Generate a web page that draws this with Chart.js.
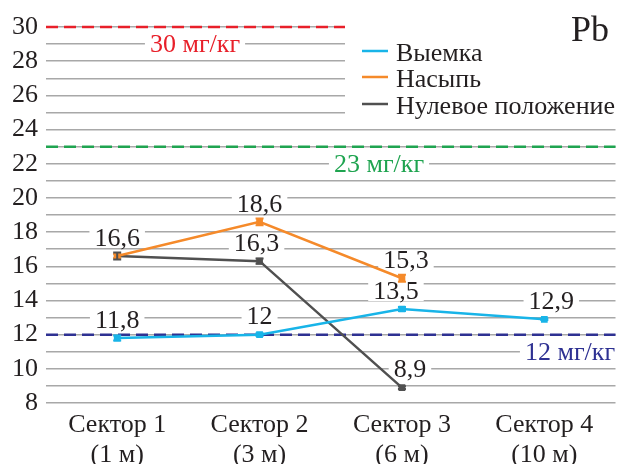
<!DOCTYPE html>
<html>
<head>
<meta charset="utf-8">
<script src="https://cdn.jsdelivr.net/npm/chart.js@4"></script>
<style>
  html, body { margin: 0; padding: 0; background: #fff; }
  canvas { display: block; }
</style>
</head>
<body>
<canvas id="chart" width="621" height="464"></canvas>
<script>
const categories = [['Сектор 1', '(1 м)'], ['Сектор 2', '(3 м)'], ['Сектор 3', '(6 м)'], ['Сектор 4', '(10 м)']];

const vyemka = [11.8, 12, 13.5, 12.9];
const nasyp = [16.6, 18.6, 15.3, null];
const nulevoe = [16.6, 16.3, 8.9, null];

const vyemkaErr = [0.15, 0.08, 0.12, 0.05];
const nasypErr = [0.12, 0.2, 0.2, null];
const nulevoeErr = [0.2, 0.15, 0.08, null];

// which points get a value label (16,6 is shared, shown once)
const vyemkaLabels = ['11,8', '12', '13,5', '12,9'];
const nasypLabels = ['16,6', '18,6', '15,3', null];
const nulevoeLabels = [null, '16,3', '8,9', null];

const limits = [30, 23, 12];
const limitLabels = ['30 мг/кг', '23 мг/кг', '12 мг/кг'];
const limitColors = ['#e8202a', '#1fa450', '#2e3192'];

const FONT = '"Liberation Serif", "DejaVu Serif", serif';
const TEXT = '#231f20';
const SIZE = 26;

// small horizontal nudges of value labels, per series
const labelShift = [[0, 0, -6, 7], [0, 0, 4, 0], [0, -3, 8, 0]];
// where the limit captions sit: x pixel and value of the row
const limitLabelPos = [[195, 29], [379, 22], [570, 11]];

function textBox(ctx, text, x, y, color) {
  ctx.font = SIZE + 'px ' + FONT;
  const w = ctx.measureText(text).width;
  ctx.fillStyle = '#fff';
  ctx.fillRect(x - w / 2 - 5, y - 10, w + 10, 20);
  ctx.fillStyle = color;
  ctx.textAlign = 'center';
  ctx.textBaseline = 'middle';
  ctx.fillText(text, x, y + 1);
}

const overlay = {
  id: 'overlay',
  beforeDatasetsDraw(chart) {
    const ctx = chart.ctx;
    const area = chart.chartArea;
    const x = chart.scales.x;
    const y = chart.scales.y;
    ctx.save();
    limits.forEach((v, i) => {
      const py = y.getPixelForValue(v);
      ctx.strokeStyle = limitColors[i];
      ctx.lineWidth = 2.5;
      ctx.setLineDash([12, 6]);
      ctx.beginPath();
      ctx.moveTo(area.left, py);
      ctx.lineTo(area.right, py);
      ctx.stroke();
    });
    ctx.setLineDash([]);
    limitLabels.forEach((t, i) => {
      textBox(ctx, t, limitLabelPos[i][0], y.getPixelForValue(limitLabelPos[i][1]), limitColors[i]);
    });
    const labels = [vyemkaLabels, nasypLabels, nulevoeLabels];
    chart.data.datasets.forEach((ds, di) => {
      ds.data.forEach((v, i) => {
        const t = labels[di][i];
        if (v == null || t == null) return;
        textBox(ctx, t, x.getPixelForValue(i) + labelShift[di][i], y.getPixelForValue(v) - 18, TEXT);
      });
    });
    ctx.restore();
  },
  afterDatasetsDraw(chart) {
    const ctx = chart.ctx;
    const x = chart.scales.x;
    const y = chart.scales.y;
    const errs = [vyemkaErr, nasypErr, nulevoeErr];
    ctx.save();
    chart.data.datasets.forEach((ds, di) => {
      ctx.strokeStyle = ds.borderColor;
      ctx.lineWidth = 2;
      ds.data.forEach((v, i) => {
        const e = errs[di][i];
        if (v == null || e == null) return;
        const px = x.getPixelForValue(i);
        const top = y.getPixelForValue(v + e);
        const bot = y.getPixelForValue(v - e);
        ctx.beginPath();
        ctx.moveTo(px, top); ctx.lineTo(px, bot);
        ctx.moveTo(px - 4, top); ctx.lineTo(px + 4, top);
        ctx.moveTo(px - 4, bot); ctx.lineTo(px + 4, bot);
        ctx.stroke();
      });
    });
    ctx.restore();
  },
  afterDraw(chart) {
    const ctx = chart.ctx;
    ctx.save();
    ctx.fillStyle = '#fff';
    ctx.fillRect(345, 0, 276, 120);
    const items = [['Выемка', '#18b4e8', 51], ['Насыпь', '#f58a2a', 77], ['Нулевое положение', '#505050', 104]];
    ctx.font = SIZE + 'px ' + FONT;
    ctx.textAlign = 'left';
    ctx.textBaseline = 'middle';
    items.forEach(([t, c, py]) => {
      ctx.strokeStyle = c;
      ctx.lineWidth = 2.5;
      ctx.beginPath();
      ctx.moveTo(362, py);
      ctx.lineTo(388, py);
      ctx.stroke();
      ctx.fillStyle = TEXT;
      ctx.fillText(t, 396, py + 3);
    });
    ctx.font = '36px ' + FONT;
    ctx.textAlign = 'right';
    ctx.fillText('Pb', 609, 32);
    ctx.restore();
  }
};

function series(label, data, color) {
  return {
    label: label,
    data: data,
    borderColor: color,
    backgroundColor: color,
    borderWidth: 2.5,
    pointStyle: 'rect',
    pointRadius: 3,
    pointHoverRadius: 3,
    tension: 0,
    spanGaps: false
  };
}

new Chart(document.getElementById('chart'), {
  type: 'line',
  data: {
    labels: categories,
    datasets: [
      series('Выемка', vyemka, '#18b4e8'),
      series('Насыпь', nasyp, '#f58a2a'),
      series('Нулевое положение', nulevoe, '#505050')
    ]
  },
  options: {
    responsive: false,
    animation: false,
    devicePixelRatio: 1,
    layout: { padding: { top: 27, right: 3, left: 0, bottom: 0 } },
    plugins: { legend: { display: false }, tooltip: { enabled: false } },
    scales: {
      x: {
        offset: true,
        grid: { display: false },
        border: { display: false },
        ticks: { color: TEXT, font: { family: FONT, size: SIZE, lineHeight: 1.15 }, padding: -1, maxRotation: 0 },
        afterFit(scale) { scale.height = 61; scale.paddingLeft = 0; scale.paddingRight = 0; }
      },
      y: {
        min: 8,
        max: 30,
        border: { display: false },
        grid: { color: '#a8a8a8', lineWidth: 1.5, drawTicks: false },
        ticks: {
          stepSize: 1,
          autoSkip: false,
          padding: 8,
          color: TEXT,
          font: { family: FONT, size: SIZE },
          callback: (v) => (v % 2 === 0 ? v : '')
        },
        afterFit(scale) { scale.width = 46; scale.paddingTop = 0; scale.paddingBottom = 0; }
      }
    }
  },
  plugins: [overlay]
});
</script>
</body>
</html>
